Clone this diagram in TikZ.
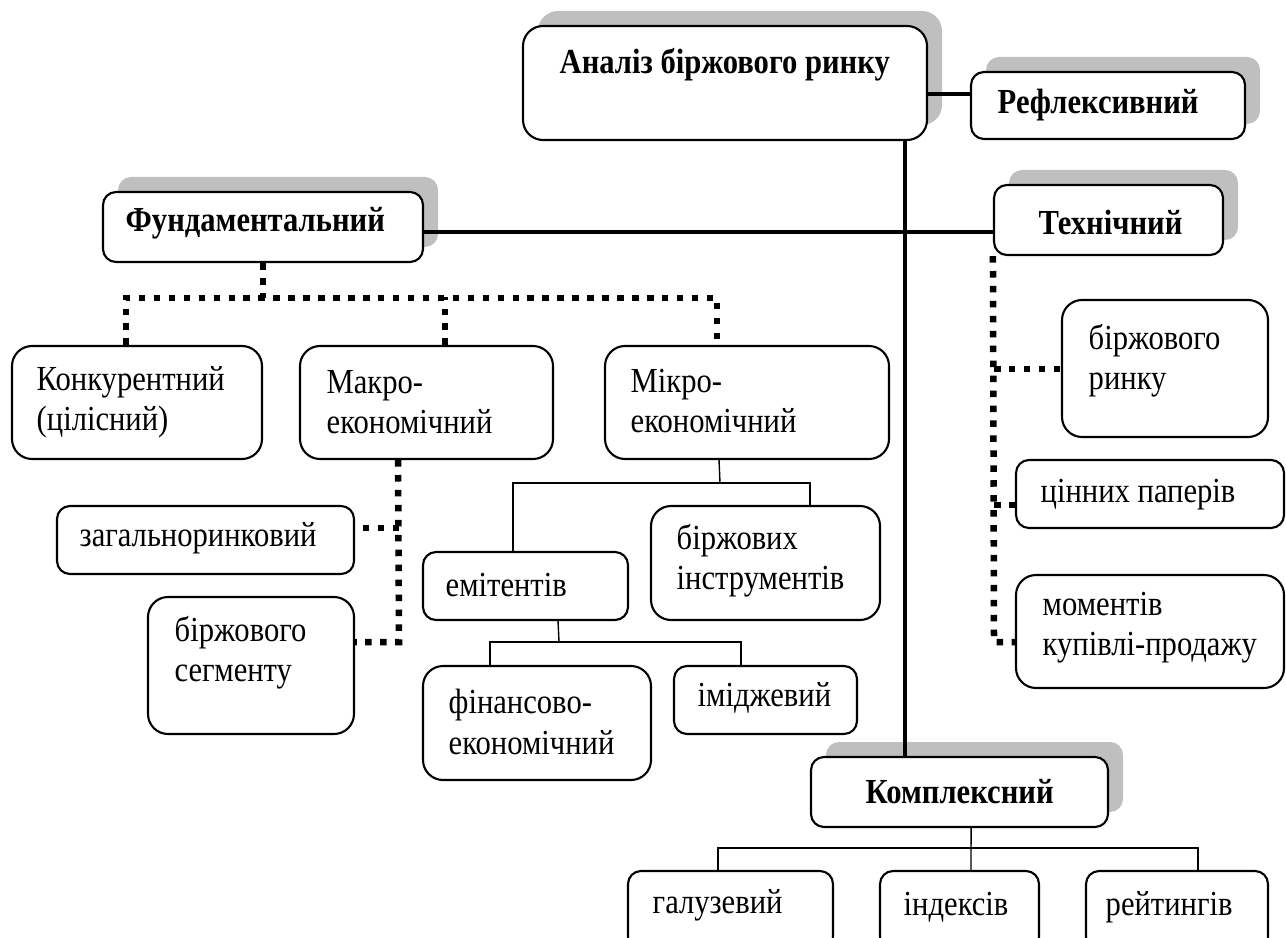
\documentclass[tikz,border=0pt]{standalone}
\usepackage{fontspec}
\setmainfont{Liberation Serif}[FakeStretch=0.87]
\usepackage{tikz}
\usetikzlibrary{fit,shadows}
\definecolor{tin}{RGB}{191,191,191}

\begin{document}
\begin{tikzpicture}[x=0.01cm, y=-0.01cm,
		blok/.style={draw, line width=0.6pt, fill=white, rounded corners=#1, inner sep=0pt},
		blok/.default=0.13cm,
		ten/.style={drop shadow={shadow xshift=0.15cm, shadow yshift=0.15cm, opacity=1, fill=tin}},
		napys/.style={anchor=west, inner sep=0pt, align=left, font=\fontsize{10}{11.4}\selectfont},
		zhyrnyi/.style={napys, font=\fontsize{10}{11.4}\selectfont\bfseries},
		tovsta/.style={line width=1.15pt},
		tonka/.style={line width=0.4pt},
		krapky/.style={line width=1.85pt, dash pattern=on 1.85pt off 2.4pt}]
	\useasboundingbox (0,0) rectangle (1286,937);
	\clip (0,0) rectangle (1286,937);
	
	\node[blok=0.2cm, ten, fit={(523,26) (927,140)}] (analiz) {};
	\node[blok, ten, fit={(971,72) (1245,139)}] (refl) {};
	\node[blok, ten, fit={(103,192) (423,262)}] (fund) {};
	\node[blok, ten, fit={(994,185) (1223,255)}] (tekh) {};
	\node[blok, ten, fit={(811,757) (1108,827)}] (kompl) {};
	
	\node[blok=0.2cm, fit={(12,346) (262,459)}] (konk) {};
	\node[blok=0.2cm, fit={(300,346) (553,459)}] (makro) {};
	\node[blok=0.2cm, fit={(605,346) (889,459)}] (mikro) {};
	\node[blok, fit={(57,506) (354,574)}] (zah) {};
	\node[blok=0.2cm, fit={(148,597) (354,734)}] (seg) {};
	\node[blok, fit={(423,552) (628,620)}] (emit) {};
	\node[blok=0.2cm, fit={(651,506) (880,620)}] (instr) {};
	\node[blok=0.2cm, fit={(423,666) (651,780)}] (fin) {};
	\node[blok, fit={(674,666) (857,734)}] (imidzh) {};
	\node[blok=0.2cm, fit={(1062,300) (1268,437)}] (rynok) {};
	\node[blok, fit={(1016,460) (1284,528)}] (tsin) {};
	\node[blok=0.2cm, fit={(1016,575) (1284,688)}] (moment) {};
	\node[blok, fit={(628,871) (833,950)}] (galuz) {};
	\node[blok, fit={(880,871) (1039,950)}] (indeks) {};
	\node[blok, fit={(1086,871) (1268,950)}] (reit) {};
	
	\node[zhyrnyi] (analiz-t) at (559,65) {Аналіз біржового ринку};
	\node[zhyrnyi] (refl-t) at (997,105) {Рефлексивний};
	\node[zhyrnyi] (fund-t) at (125,223) {Фундаментальний};
	\node[zhyrnyi] (tekh-t) at (1038,222) {Технічний};
	\node[zhyrnyi] (kompl-t) at (865,792) {Комплексний};
	\node[napys] (konk-t) at (36,402) {Конкурентний\\(цілісний)};
	\node[napys] (makro-t) at (326,402) {Макро-\\економічний};
	\node[napys] (mikro-t) at (630,401) {Мікро-\\економічний};
	\node[napys] (zah-t) at (79,538) {загальноринковий};
	\node[napys] (seg-t) at (174,653) {біржового\\сегменту};
	\node[napys] (emit-t) at (445,585) {емітентів};
	\node[napys] (instr-t) at (676,561) {біржових\\інструментів};
	\node[napys] (fin-t) at (448,722) {фінансово-\\економічний};
	\node[napys] (imidzh-t) at (697,698) {іміджевий};
	\node[napys] (rynok-t) at (1088,361) {біржового\\ринку};
	\node[napys] (tsin-t) at (1040,495) {цінних паперів};
	\node[napys] (moment-t) at (1042,628) {моментів\\купівлі-продажу};
	\node[napys] (galuz-t) at (652,905) {галузевий};
	\node[napys] (indeks-t) at (903,907) {індексів};
	\node[napys] (reit-t) at (1105,907) {рейтингів};
	
	\coordinate (stovp) at (905,0);
	\coordinate (r1) at (0,94);
	\coordinate (r2) at (0,232);
	\draw[tovsta] (analiz.south -| stovp) -- (kompl.north -| stovp);
	\draw[tovsta] (analiz.east |- r1) -- (refl.west |- r1);
	\draw[tovsta] (fund.east |- r2) -- (tekh.west |- r2);
	
	\coordinate (fz) at (263,298);
	\draw[krapky] (fund.south) -- (fz);
	\draw[krapky] ([xshift=1.15cm]konk.north west) |- (fz) -| ([xshift=1.13cm]mikro.north west);
	\draw[krapky] ([xshift=1.46cm]makro.north west) -- ++(0,-48);
	
	\coordinate (m1) at (399,528);
	\coordinate (m2) at (399,642);
	\draw[krapky] ([xshift=0.99cm]makro.south west) -- (m2) -- (m2 -| seg.east);
	\draw[krapky] (m1) -- (m1 -| zah.east);
	
	\coordinate (t1) at (994,369);
	\coordinate (t2) at (994,505);
	\coordinate (t3) at (994,642);
	\draw[krapky] (tekh.south west) -- (t3) -- (t3 -| moment.west);
	\draw[krapky] (t1) -- (t1 -| rynok.west);
	\draw[krapky] (t2) -- (t2 -| tsin.west);
	
	\coordinate (k1) at (720,483);
	\draw[tonka] ([xshift=1.15cm]mikro.south west) -- (k1);
	\draw[tonka] ([xshift=0.91cm]emit.north west) |- (k1) -| ([xshift=1.6cm]instr.north west);
	
	\coordinate (k2) at (559,642);
	\draw[tonka] ([xshift=1.36cm]emit.south west) -- (k2);
	\draw[tonka] ([xshift=0.68cm]fin.north west) |- (k2) -| ([xshift=0.68cm]imidzh.north west);
	
	\coordinate (k3) at (972,848);
	\draw[tonka] ([xshift=1.61cm]kompl.south west) -- ([xshift=0.92cm]indeks.north west);
	\draw[tonka] ([xshift=0.91cm]galuz.north west) |- (k3) -| ([xshift=1.13cm]reit.north west);
\end{tikzpicture}
\end{document}
